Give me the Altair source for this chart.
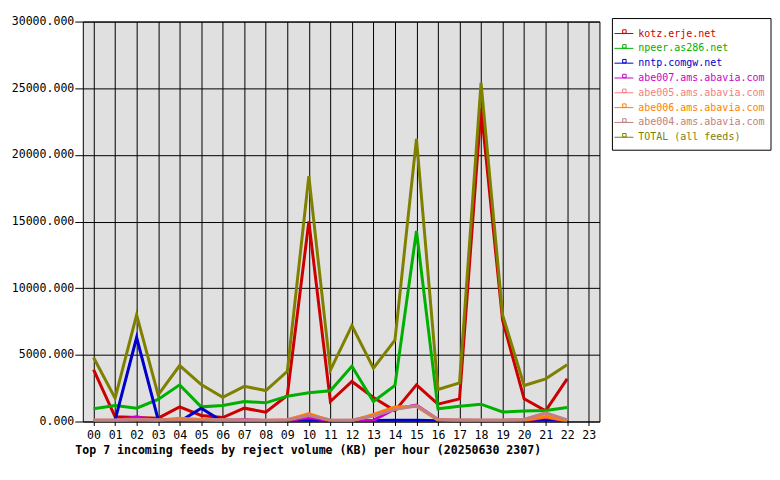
import altair as alt
import pandas as pd

hours = list(range(23))
hour_ticks = list(range(24))
y_ticks = [0, 5000, 10000, 15000, 20000, 25000, 30000]

series_names = [
    "kotz.erje.net",
    "npeer.as286.net",
    "nntp.comgw.net",
    "abe007.ams.abavia.com",
    "abe005.ams.abavia.com",
    "abe006.ams.abavia.com",
    "abe004.ams.abavia.com",
    "TOTAL (all feeds)",
]
series_colors = ["#cc0000", "#00b000", "#0000cc", "#cc00cc", "#f08080", "#ff8000", "#c08080", "#808000"]

kotz = [3900, 350, 300, 250, 1100, 450, 300, 1000, 700, 1950, 15000, 1500, 3000, 1800, 800, 2750, 1300, 1700, 23500, 7600, 1700, 800, 3200]
npeer = [950, 1200, 1000, 1650, 2750, 1100, 1200, 1500, 1400, 1900, 2150, 2300, 4150, 1500, 2700, 14300, 950, 1150, 1300, 720, 780, 820, 1050]
nntp = [0, 100, 6300, 150, 0, 1000, 0, 0, 0, 0, 100, 0, 0, 80, 100, 100, 50, 0, 0, 0, 0, 150, 50]
abe007 = [50, 50, 350, 50, 50, 50, 50, 150, 50, 50, 300, 50, 50, 100, 950, 1230, 150, 50, 50, 50, 50, 300, 50]
abe005 = [100, 100, 150, 100, 150, 150, 100, 100, 100, 150, 550, 100, 100, 450, 950, 1180, 150, 100, 100, 100, 150, 600, 100]
abe006 = [50, 50, 100, 100, 250, 150, 50, 50, 50, 100, 600, 50, 50, 540, 1080, 1150, 100, 50, 50, 50, 100, 350, 50]
abe004 = [120, 120, 150, 130, 120, 120, 150, 120, 100, 120, 450, 120, 100, 410, 910, 1160, 150, 130, 120, 120, 150, 650, 120]
total = [4800, 1750, 8000, 2000, 4200, 2770, 1820, 2640, 2320, 3760, 18400, 3850, 7200, 4000, 6100, 21200, 2400, 2900, 25400, 8000, 2700, 3200, 4250]

series_values = [kotz, npeer, nntp, abe007, abe005, abe006, abe004, total]

rows = []
for name, vals in zip(series_names, series_values):
    for h, v in zip(hours, vals):
        rows.append({"hour": h, "kb": v, "feed": name})
df = pd.DataFrame(rows)

FONT = "DejaVu Sans Mono"
TITLE = "Top 7 incoming feeds by reject volume (KB) per hour (20250630 2307)"

color_scale = alt.Scale(domain=series_names, range=series_colors)

x_enc = alt.X(
    "hour:Q",
    scale=alt.Scale(domain=[-0.5, 23.5], nice=False, zero=False),
    axis=alt.Axis(
        values=hour_ticks, format="02d", grid=True, gridColor="black", gridOpacity=1,
        gridWidth=1, tickColor="black", tickSize=4, tickWidth=1, domain=False,
        labelFont=FONT, labelFontSize=11.6, labelColor="black", labelPadding=4,
        labelFlush=False, labelOverlap=False,
        title=TITLE, titleFont=FONT, titleFontSize=11.6, titleFontWeight="bold",
        titleColor="black", titleX=-8, titleY=29, titleAlign="left", titleBaseline="middle",
    ),
)
y_enc = alt.Y(
    "kb:Q",
    scale=alt.Scale(domain=[0, 30000], nice=False, zero=True),
    axis=alt.Axis(
        values=y_ticks, format=".3f", grid=True, gridColor="black", gridOpacity=1,
        gridWidth=1, tickColor="black", tickSize=8, tickWidth=1, domain=False,
        labelFont=FONT, labelFontSize=11.6, labelColor="black", labelPadding=1,
        labelFlush=False, labelOverlap=False, title=None,
    ),
)

layers = []
for name in series_names:
    layers.append(
        alt.Chart(df)
        .transform_filter(alt.datum.feed == name)
        .mark_line(strokeWidth=3, clip=True, strokeJoin="miter")
        .encode(x=x_enc, y=y_enc, color=alt.Color("feed:N", scale=color_scale, legend=None))
    )

main = alt.layer(*layers).properties(
    width=518, height=401,
    view=alt.ViewBackground(fill="#e0e0e0", stroke="black", strokeWidth=1),
)

leg_df = pd.DataFrame({"feed": series_names, "idx": list(range(len(series_names)))})
leg_y = alt.Y("idx:Q", scale=alt.Scale(domain=[-0.808, 7.874], nice=False, zero=False, reverse=True), axis=None)
leg_color = alt.Color("feed:N", scale=color_scale, legend=None)

leg_base = alt.Chart(leg_df)
leg_box = alt.Chart(leg_df.head(1)).mark_rect(fill="white", stroke="black", strokeWidth=1).encode(
    x=alt.value(0), x2=alt.value(159), y=alt.value(-3), y2=alt.value(129)
)
leg_rule = leg_base.mark_rule(strokeWidth=1).encode(
    x=alt.value(2), x2=alt.value(21), y=leg_y, color=leg_color
)
leg_sq = leg_base.mark_point(shape="square", filled=False, size=12, strokeWidth=1, yOffset=-2, opacity=1).encode(
    x=alt.value(12), y=leg_y, color=leg_color
)
leg_text = leg_base.mark_text(align="left", baseline="middle", font=FONT, fontSize=10).encode(
    x=alt.value(26), y=leg_y, text="feed:N", color=leg_color
)
legend = alt.layer(leg_box, leg_rule, leg_sq, leg_text).properties(
    width=159, height=129,
    view=alt.ViewBackground(fill=None, stroke=None),
)

chart = (
    alt.hconcat(main, legend, spacing=11)
    .properties(padding={"left": 2, "top": 6, "right": 0, "bottom": 0}, background="white")
    .configure_concat(spacing=11)
)

chart.save("out.html", embed_options={"renderer": "svg", "actions": False})
